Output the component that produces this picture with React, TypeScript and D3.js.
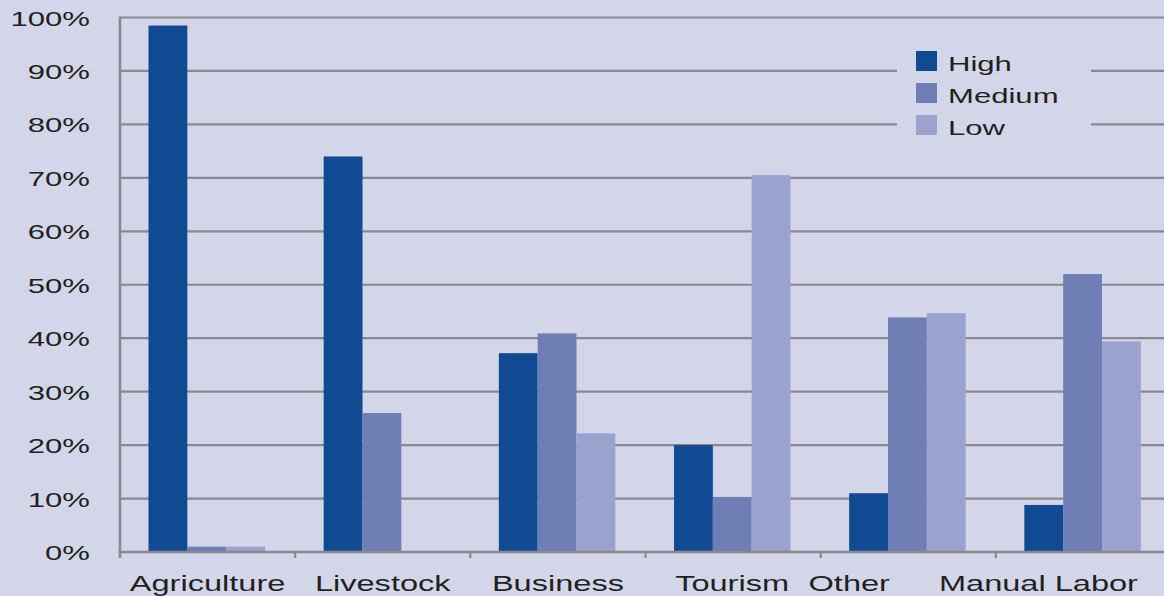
import React from "react";
import * as d3 from "d3";

const categories = ["Agriculture", "Livestock", "Business", "Tourism", "Other", "Manual Labor"];
const seriesKeys = ["High", "Medium", "Low"];
const highValues = [98.5, 74, 37.2, 20, 11, 8.8];
const mediumValues = [1, 26, 40.9, 10.3, 43.9, 52];
const lowValues = [1, 0, 22.2, 70.5, 44.7, 39.4];
const yTicks = [0, 10, 20, 30, 40, 50, 60, 70, 80, 90, 100];

// layout-only nudges of the category labels (as placed in the original)
const labelNudge = [0, 0, 0, -1, -59, -45];

const colors: Record<string, string> = {
  High: "#104a93",
  Medium: "#6f7fb6",
  Low: "#9aa2cd",
};

const W = 1164;
const H = 596;
const BG = "#d3d6e9";
const GRID = "#88898d";
const TEXT = "#231f20";
const FONT = "'Liberation Sans', Arial, Helvetica, sans-serif";
const SX = 1.48;

export default function App() {
  const values: Record<string, number[]> = {
    High: highValues,
    Medium: mediumValues,
    Low: lowValues,
  };

  const x0 = d3.scaleBand<string>().domain(categories).range([120, 1171]).paddingInner(0).paddingOuter(0);
  const bw = x0.bandwidth();
  const x1 = d3.scaleBand<string>().domain(seriesKeys).range([28.5, 28.5 + 116.5]).padding(0);
  const y = d3.scaleLinear().domain([0, 100]).range([552, 17.5]);

  const fmt = (v: number) => `${v}%`;

  return (
    <svg
      width={W}
      height={H}
      style={{ position: "absolute", left: 0, top: 0, display: "block" }}
      fontFamily={FONT}
    >
      <rect x={0} y={0} width={W} height={H} fill={BG} />

      {/* gridlines */}
      {yTicks.filter((t) => t > 0).map((t) => (
        <line key={t} x1={120} x2={W} y1={y(t)} y2={y(t)} stroke={GRID} strokeWidth={2.2} />
      ))}

      {/* legend box covering gridlines */}
      <rect x={897} y={36} width={194} height={112} fill={BG} />

      {/* bars */}
      {categories.map((c, i) => (
        <g key={c} transform={`translate(${x0(c)},0)`}>
          {seriesKeys.map((k) => {
            const v = values[k][i];
            if (v <= 0) return null;
            return (
              <rect
                key={k}
                x={x1(k)}
                y={y(v)}
                width={x1.bandwidth()}
                height={y(0) - y(v)}
                fill={colors[k]}
              />
            );
          })}
        </g>
      ))}

      {/* axes */}
      <line x1={120} x2={120} y1={16.5} y2={558} stroke={GRID} strokeWidth={2.6} />
      <line x1={118.7} x2={W} y1={y(0)} y2={y(0)} stroke={GRID} strokeWidth={2.6} />
      {categories.slice(1).map((c) => (
        <line key={c} x1={x0(c)} x2={x0(c)} y1={y(0)} y2={558} stroke={GRID} strokeWidth={2.2} />
      ))}

      {/* y tick labels */}
      {yTicks.map((t) => (
        <g key={t} transform={`translate(90,${y(t) + 8}) scale(${SX},1)`}>
          <text textAnchor="end" fontSize={21} fill={TEXT}>
            {fmt(t)}
          </text>
        </g>
      ))}

      {/* x labels */}
      {categories.map((c, i) => (
        <g key={c} transform={`translate(${(x0(c) as number) + bw / 2 + labelNudge[i]},591) scale(${SX},1)`}>
          <text textAnchor="middle" fontSize={22} fill={TEXT}>
            {c}
          </text>
        </g>
      ))}

      {/* legend */}
      {seriesKeys.map((k, i) => (
        <g key={k} transform={`translate(916,${51 + i * 32})`}>
          <rect x={0} y={0} width={21} height={20} fill={colors[k]} />
          <g transform={`translate(32,20) scale(${SX},1)`}>
            <text fontSize={21} fill={TEXT}>
              {k}
            </text>
          </g>
        </g>
      ))}
    </svg>
  );
}
